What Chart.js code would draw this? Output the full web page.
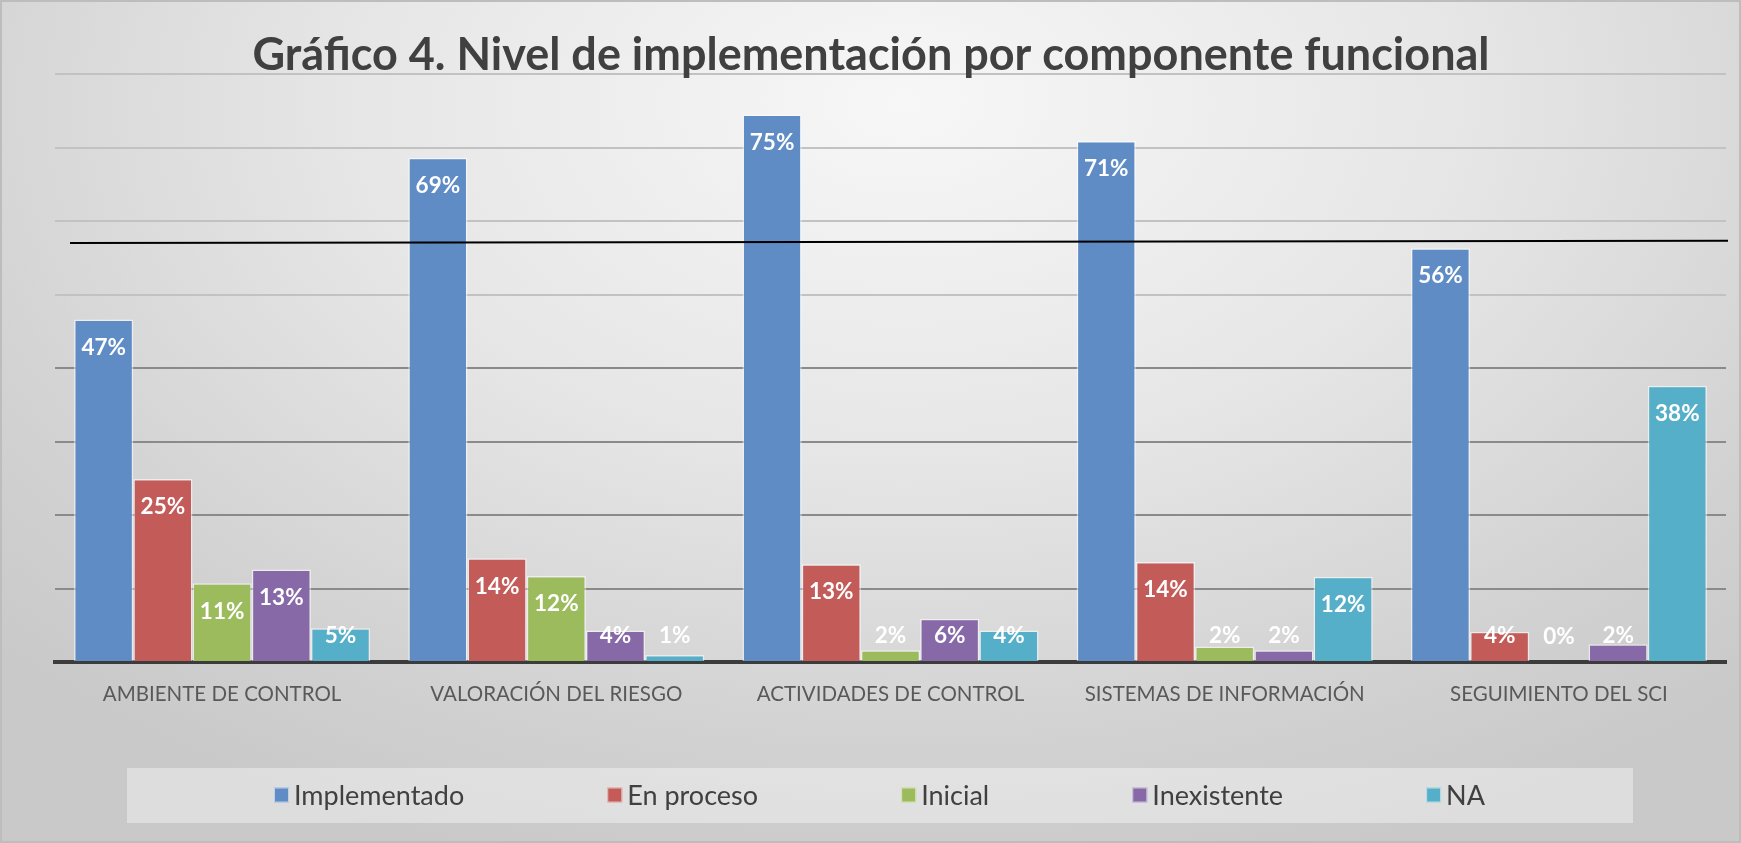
<!DOCTYPE html>
<html>
<head>
<meta charset="utf-8">
<script src="https://cdn.jsdelivr.net/npm/chart.js@4.4.1/dist/chart.umd.min.js"></script>
<style>
  html, body { margin: 0; padding: 0; background: #ffffff; }
  #wrap {
    position: relative; width: 1741px; height: 843px; box-sizing: border-box;
    border: 2px solid #bdbdbd;
    background: radial-gradient(ellipse 72% 95% at 52% 12%, #f7f7f7 0%, #e6e6e6 45%, #d2d2d2 80%, #c9c9c9 100%);
    overflow: hidden;
  }
  #c { position: absolute; left: -2px; top: -2px; }
</style>
</head>
<body>
<div id="wrap"><canvas id="c" width="1741" height="843"></canvas></div>
<script>
// ---- data ----
const chartTitle = 'Gráfico 4. Nivel de implementación por componente funcional';
const categories = ['AMBIENTE DE CONTROL', 'VALORACIÓN DEL RIESGO', 'ACTIVIDADES DE CONTROL', 'SISTEMAS DE INFORMACIÓN', 'SEGUIMIENTO DEL SCI'];
const seriesNames = ['Implementado', 'En proceso', 'Inicial', 'Inexistente', 'NA'];
const implementado = [46.6, 68.6, 74.5, 70.9, 56.3];
const enProceso    = [24.9, 14.1, 13.3, 13.6, 4.1];
const inicial      = [10.7, 11.7, 1.6, 2.1, 0];
const inexistente  = [12.6, 4.3, 5.9, 1.6, 2.4];
const na           = [4.6, 0.95, 4.3, 11.6, 37.6];
const yMin = 0, yMax = 80, yStep = 10;
const referenceLine = [57.0, 57.3]; // hand-drawn black line (left, right) in %

// ---- styles ----
const seriesColors = ['#5f8cc5', '#c35b58', '#9cbb5c', '#8769a8', '#56afc8'];
const FONT = 'Lato, "Open Sans", sans-serif';

const seriesValues = [implementado, enProceso, inicial, inexistente, na];

const titlePlugin = {
  id: 'titleDraw',
  beforeDatasetsDraw(chart) {
    const ctx = chart.ctx;
    ctx.save();
    ctx.font = 'bold 46px ' + FONT;
    const w = ctx.measureText(chartTitle).width;
    const sx = Math.min(1, 1237 / w);
    ctx.translate(871, 70);
    ctx.scale(sx, 1);
    ctx.fillStyle = '#404040';
    ctx.textAlign = 'center';
    ctx.textBaseline = 'alphabetic';
    ctx.fillText(chartTitle, 0, 0);
    ctx.restore();
  }
};

const labelsPlugin = {
  id: 'barLabels',
  afterDatasetsDraw(chart) {
    const ctx = chart.ctx;
    ctx.save();
    ctx.font = 'bold 22.5px ' + FONT;
    ctx.fillStyle = '#ffffff';
    ctx.textAlign = 'center';
    ctx.textBaseline = 'middle';
    chart.data.datasets.forEach((ds, di) => {
      const meta = chart.getDatasetMeta(di);
      meta.data.forEach((el, i) => {
        const v = ds.data[i];
        const yc = Math.min(el.y + 28, el.base - 25);
        ctx.fillText(Math.round(v) + '%', el.x, yc);
      });
    });
    // reference line
    const ys = chart.scales.y;
    const ca = chart.chartArea;
    ctx.beginPath();
    ctx.strokeStyle = '#000000';
    ctx.lineWidth = 2;
    ctx.moveTo(ca.left + 15, ys.getPixelForValue(referenceLine[0]));
    ctx.lineTo(ca.right + 2, ys.getPixelForValue(referenceLine[1]));
    ctx.stroke();
    ctx.restore();
  }
};

const legendPlugin = {
  id: 'legendDraw',
  afterDraw(chart) {
    const ctx = chart.ctx;
    ctx.save();
    ctx.fillStyle = 'rgba(255,255,255,0.38)';
    ctx.fillRect(127, 768, 1506, 55);
    ctx.font = '27px ' + FONT;
    const box = 15, gapBT = 5;
    const startX = 274, endX = 1485;
    const widths = seriesNames.map(n => box + gapBT + ctx.measureText(n).width);
    const sum = widths.reduce((a, b) => a + b, 0);
    const gap = (endX - startX - sum) / (seriesNames.length - 1);
    let x = startX;
    const yc = 795;
    ctx.textBaseline = 'middle';
    ctx.textAlign = 'left';
    seriesNames.forEach((n, i) => {
      ctx.fillStyle = seriesColors[i];
      ctx.fillRect(x, yc - box / 2, box, box);
      ctx.strokeStyle = 'rgba(255,255,255,0.6)';
      ctx.lineWidth = 1;
      ctx.strokeRect(x + 0.5, yc - box / 2 + 0.5, box - 1, box - 1);
      ctx.fillStyle = '#404040';
      ctx.fillText(n, x + box + gapBT, yc + 1);
      x += widths[i] + gap;
    });
    ctx.restore();
  }
};

new Chart(document.getElementById('c'), {
  type: 'bar',
  data: {
    labels: categories,
    datasets: seriesNames.map((n, i) => ({
      label: n,
      data: seriesValues[i],
      backgroundColor: seriesColors[i],
      borderColor: 'rgba(255,255,255,0.55)',
      borderWidth: 1.5,
      categoryPercentage: 0.886,
      barPercentage: 1.0
    }))
  },
  options: {
    responsive: false,
    devicePixelRatio: 1,
    animation: false,
    layout: { padding: { left: 55, right: 15, top: 74, bottom: 0 } },
    plugins: { legend: { display: false }, title: { display: false }, tooltip: { enabled: false } },
    scales: {
      x: {
        grid: { display: false, drawTicks: false },
        border: { display: true, color: '#3c3c3c', width: 4 },
        ticks: { color: '#595959', font: { family: FONT, size: 20.5 }, padding: 20, maxRotation: 0, autoSkip: false },
        afterFit(scale) { scale.height = 181; }
      },
      y: {
        min: yMin, max: yMax,
        ticks: { display: false, stepSize: yStep },
        border: { display: false },
        grid: {
          drawTicks: false,
          lineWidth: 2,
          color: (c) => c.tick && c.tick.value === 0 ? 'rgba(0,0,0,0)' : (c.tick && c.tick.value >= 50 ? '#c2c2c2' : '#8a8a8a')
        },
        afterFit(scale) { scale.width = 0; }
      }
    }
  },
  plugins: [titlePlugin, labelsPlugin, legendPlugin]
});
</script>
</body>
</html>
